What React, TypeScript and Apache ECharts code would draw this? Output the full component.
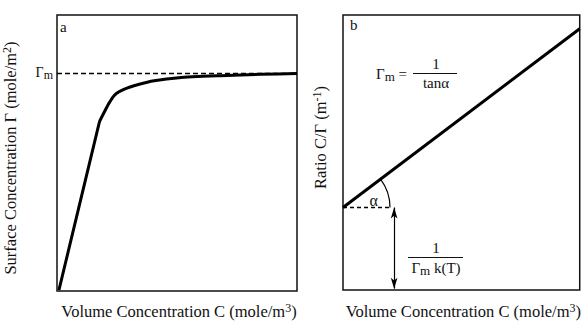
import React, { useEffect, useRef } from "react";
import * as echarts from "echarts";

const FONT = "'Liberation Serif', 'Times New Roman', serif";

// Panel a: adsorption isotherm, surface concentration vs volume concentration
const isothermC = [0.8, 16.5, 17.8, 19.4, 21.5, 24.0, 28.1, 33.9, 40.5, 50.8, 68.2, 84.7, 100];
const isothermGamma = [0.3, 57.0, 61.5, 64.3, 67.8, 71.0, 73.1, 74.8, 76.2, 77.3, 78.0, 78.5, 78.8];
const gammaM = 79;

// Panel b: linearised form C/Γ vs C
const ratioC = [0, 100];
const ratioCGamma = [30, 95];
const interceptEndC = 20; // end of dashed horizontal at the intercept
const arrowC = 21.6; // position of the double arrow marking the intercept

const xName = "{t|Volume Concentration C (mole/m}{s|3}{t|)}";
const yNameA = "{t|Surface Concentration Γ (mole/m}{s|2}{t|)}";
const yNameB = "{t|Ratio C/Γ (m}{s|-1}{t|)}";

const richText = {
  t: { fontFamily: FONT, fontSize: 16.5, color: "#111" },
  s: { fontFamily: FONT, fontSize: 12, color: "#111", verticalAlign: "top", padding: [0, 0, 7, 0] },
};

export default function App() {
  const ref = useRef<HTMLDivElement>(null);

  useEffect(() => {
    const chart = echarts.init(ref.current!, null, { renderer: "svg" });

    const hiddenAxis = {
      type: "value",
      min: 0,
      max: 100,
      axisLine: { show: false },
      axisTick: { show: false },
      axisLabel: { show: false },
      splitLine: { show: false },
    };

    chart.setOption({
      animation: false,
      backgroundColor: "#fff",
      textStyle: { fontFamily: FONT },
      grid: [
        { left: 55, top: 15, width: 242, height: 286, show: true, borderColor: "#111", borderWidth: 1.5 },
        { left: 343, top: 15, width: 245, height: 285, show: true, borderColor: "#111", borderWidth: 1.5 },
      ],
      xAxis: [
        {
          ...hiddenAxis,
          gridIndex: 0,
          name: xName,
          nameLocation: "middle",
          nameGap: 11,
          nameTextStyle: { fontFamily: FONT, rich: richText, verticalAlign: "top", padding: [0, 0, 0, 4] },
        },
        {
          ...hiddenAxis,
          gridIndex: 1,
          name: xName,
          nameLocation: "middle",
          nameGap: 12,
          nameTextStyle: { fontFamily: FONT, rich: richText, verticalAlign: "top", padding: [0, 0, 0, 4] },
        },
      ],
      yAxis: [
        {
          ...hiddenAxis,
          gridIndex: 0,
          axisLabel: {
            show: true,
            customValues: [gammaM],
            margin: 4,
            fontFamily: FONT,
            formatter: () => "{g|Γ}{m|m}",
            rich: {
              g: { fontFamily: FONT, fontSize: 14, color: "#111" },
              m: { fontFamily: FONT, fontSize: 12, color: "#111", padding: [4, 0, 0, 0] },
            },
          },
          name: yNameA,
          nameLocation: "middle",
          nameGap: 37,
          nameRotate: 90,
          nameTextStyle: { fontFamily: FONT, rich: richText, padding: [0, 10, 0, 0] },
        },
        {
          ...hiddenAxis,
          gridIndex: 1,
          name: yNameB,
          nameLocation: "middle",
          nameGap: 13,
          nameRotate: 90,
          nameTextStyle: { fontFamily: FONT, rich: richText, padding: [0, 0, 0, 30] },
        },
      ],
      series: [
        {
          type: "line",
          xAxisIndex: 0,
          yAxisIndex: 0,
          data: isothermC.map((c, i) => [c, isothermGamma[i]]),
          smooth: 0.2,
          symbol: "none",
          lineStyle: { color: "#000", width: 3 },
          markLine: {
            silent: true,
            symbol: "none",
            label: { show: false },
            lineStyle: { color: "#000", width: 1.4, type: [5, 3] },
            data: [{ yAxis: gammaM }],
          },
        },
        {
          type: "line",
          xAxisIndex: 1,
          yAxisIndex: 1,
          data: ratioC.map((c, i) => [c, ratioCGamma[i]]),
          symbol: "none",
          lineStyle: { color: "#000", width: 3 },
        },
        {
          type: "line",
          xAxisIndex: 1,
          yAxisIndex: 1,
          data: [
            [0, ratioCGamma[0]],
            [interceptEndC, ratioCGamma[0]],
          ],
          symbol: "none",
          lineStyle: { color: "#000", width: 1.3, type: [4, 3] },
          markLine: {
            silent: true,
            symbol: ["arrow", "arrow"],
            symbolSize: [5, 11],
            label: { show: false },
            lineStyle: { color: "#000", width: 1.2, type: "solid" },
            data: [
              [
                { coord: [arrowC, ratioCGamma[0]] },
                { coord: [arrowC, 0.5] },
              ],
            ],
          },
        },
      ],
    });

    // Angle arc between the dashed intercept line and the fitted line
    const origin = chart.convertToPixel({ gridIndex: 1 }, [ratioC[0], ratioCGamma[0]]) as number[];
    const far = chart.convertToPixel({ gridIndex: 1 }, [ratioC[1], ratioCGamma[1]]) as number[];
    const angle = Math.atan2(origin[1] - far[1], far[0] - origin[0]);
    const arcR = 47;
    const alphaPos = chart.convertToPixel({ gridIndex: 1 }, [13, 32.5]) as number[];

    const txt = (x: number, y: number, text: string, size = 15, align = "left") => ({
      type: "text",
      x,
      y,
      style: {
        text,
        font: `${size}px ${FONT}`,
        fontFamily: FONT,
        fontSize: size,
        fill: "#111",
        align,
        verticalAlign: "middle",
      },
    });

    const gammaMRich = {
      g: { fontFamily: FONT, fontSize: 15, fill: "#111" },
      m: { fontFamily: FONT, fontSize: 13, fill: "#111", padding: [4, 0, 0, 0] },
      e: { fontFamily: FONT, fontSize: 15, fill: "#111" },
    };

    chart.setOption({
      graphic: [
        txt(60, 27, "a", 15),
        txt(350, 25, "b", 15),
        {
          type: "arc",
          shape: { cx: origin[0], cy: origin[1], r: arcR, startAngle: -angle, endAngle: 0, clockwise: true },
          style: { stroke: "#000", lineWidth: 1.2, fill: "none" },
        },
        txt(alphaPos[0], alphaPos[1], "α", 16, "center"),
        // Γm = 1 / tanα
        {
          type: "text",
          x: 376,
          y: 74,
          style: { text: "{g|Γ}{m|m}{e| =}", fontFamily: FONT, verticalAlign: "middle", rich: gammaMRich },
        },
        txt(436, 64, "1", 15, "center"),
        {
          type: "line",
          shape: { x1: 413, y1: 73.5, x2: 457, y2: 73.5 },
          style: { stroke: "#111", lineWidth: 1 },
        },
        txt(436, 83, "tanα", 15, "center"),
        // 1 / (Γm k(T))
        txt(436, 248, "1", 15, "center"),
        {
          type: "line",
          shape: { x1: 408, y1: 257.5, x2: 463, y2: 257.5 },
          style: { stroke: "#111", lineWidth: 1 },
        },
        {
          type: "text",
          x: 436,
          y: 268,
          style: {
            text: "{g|Γ}{m|m}{e| k(T)}",
            fontFamily: FONT,
            align: "center",
            verticalAlign: "middle",
            rich: gammaMRich,
          },
        },
      ],
    });

    return () => chart.dispose();
  }, []);

  return (
    <div
      ref={ref}
      style={{ position: "absolute", left: 0, top: 0, width: 584, height: 325, background: "#fff" }}
    />
  );
}
